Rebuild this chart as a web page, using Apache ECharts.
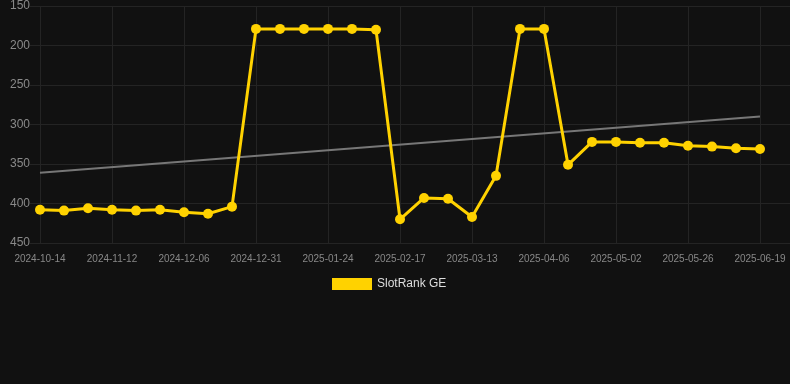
<!DOCTYPE html>
<html>
<head>
<meta charset="utf-8">
<script src="https://cdn.jsdelivr.net/npm/echarts@6/dist/echarts.min.js"></script>
<style>
html,body{margin:0;padding:0;background:#111111;}
#chart{width:790px;height:384px;}
</style>
</head>
<body>
<div id="chart"></div>
<script>
const dates = ["2024-10-14","2024-10-24","2024-11-03","2024-11-12","2024-11-20","2024-11-28","2024-12-06","2024-12-14","2024-12-23","2024-12-31","2025-01-08","2025-01-16","2025-01-24","2025-02-01","2025-02-09","2025-02-17","2025-02-25","2025-03-05","2025-03-13","2025-03-21","2025-03-29","2025-04-06","2025-04-15","2025-04-24","2025-05-02","2025-05-10","2025-05-18","2025-05-26","2025-06-03","2025-06-11","2025-06-19"];
const rankValues = [408,409,406,408,409,408,411,413,404,179,179,179,179,179,180,420,393,394,417,365,179,179,351,322,322,323,323,327,328,330,331];
const trendValues = [361,null,null,null,null,null,null,null,null,null,null,null,null,null,null,null,null,null,null,null,null,null,null,null,null,null,null,null,null,null,290];
const seriesName = "SlotRank GE";
const yTicks = {min:150, max:450, interval:50};

const chart = echarts.init(document.getElementById('chart'));
const gridColor = '#242424';
chart.setOption({
  backgroundColor: '#111111',
  animation: false,
  grid: [
    {left:40, right:30, top:6, bottom:141},
    {left:30, right:0, top:6, bottom:141}
  ],
  legend: {
    data:[seriesName],
    top:273, left:327,
    itemWidth:40, itemHeight:12, itemGap:6,
    icon:'rect',
    textStyle:{color:'#dddddd', fontSize:12, fontFamily:'Liberation Sans, Arial, sans-serif'}
  },
  xAxis: [
    {
      type:'category', data:dates, boundaryGap:false, gridIndex:0,
      axisLine:{show:false}, axisTick:{show:false},
      axisLabel:{interval:2, color:'#888888', fontSize:10, margin:11, fontFamily:'Liberation Sans, Arial, sans-serif'},
      splitLine:{show:true, interval:2, lineStyle:{color:gridColor, width:1}}
    },
    {type:'value', gridIndex:1, min:0, max:1, show:false}
  ],
  yAxis: [
    {
      type:'value', inverse:true, min:yTicks.min, max:yTicks.max, interval:yTicks.interval, gridIndex:0,
      axisLine:{show:false}, axisTick:{show:false},
      axisLabel:{color:'#8a8a8a', fontSize:12, margin:10, fontFamily:'Liberation Sans, Arial, sans-serif'},
      splitLine:{show:false}
    },
    {
      type:'value', inverse:true, min:yTicks.min, max:yTicks.max, interval:yTicks.interval, gridIndex:1,
      axisLine:{show:false}, axisTick:{show:false}, axisLabel:{show:false},
      splitLine:{show:true, lineStyle:{color:gridColor, width:1}}
    }
  ],
  series: [
    {
      name:'trend', type:'line', data:trendValues, connectNulls:true,
      xAxisIndex:0, yAxisIndex:0,
      symbol:'none', lineStyle:{color:'#777777', width:2}, z:2, silent:true
    },
    {
      name:seriesName, type:'line', data:rankValues,
      xAxisIndex:0, yAxisIndex:0,
      symbol:'circle', symbolSize:10,
      itemStyle:{color:'#FFD200'},
      lineStyle:{color:'#FFD200', width:3}, z:3
    }
  ]
});
</script>
</body>
</html>
